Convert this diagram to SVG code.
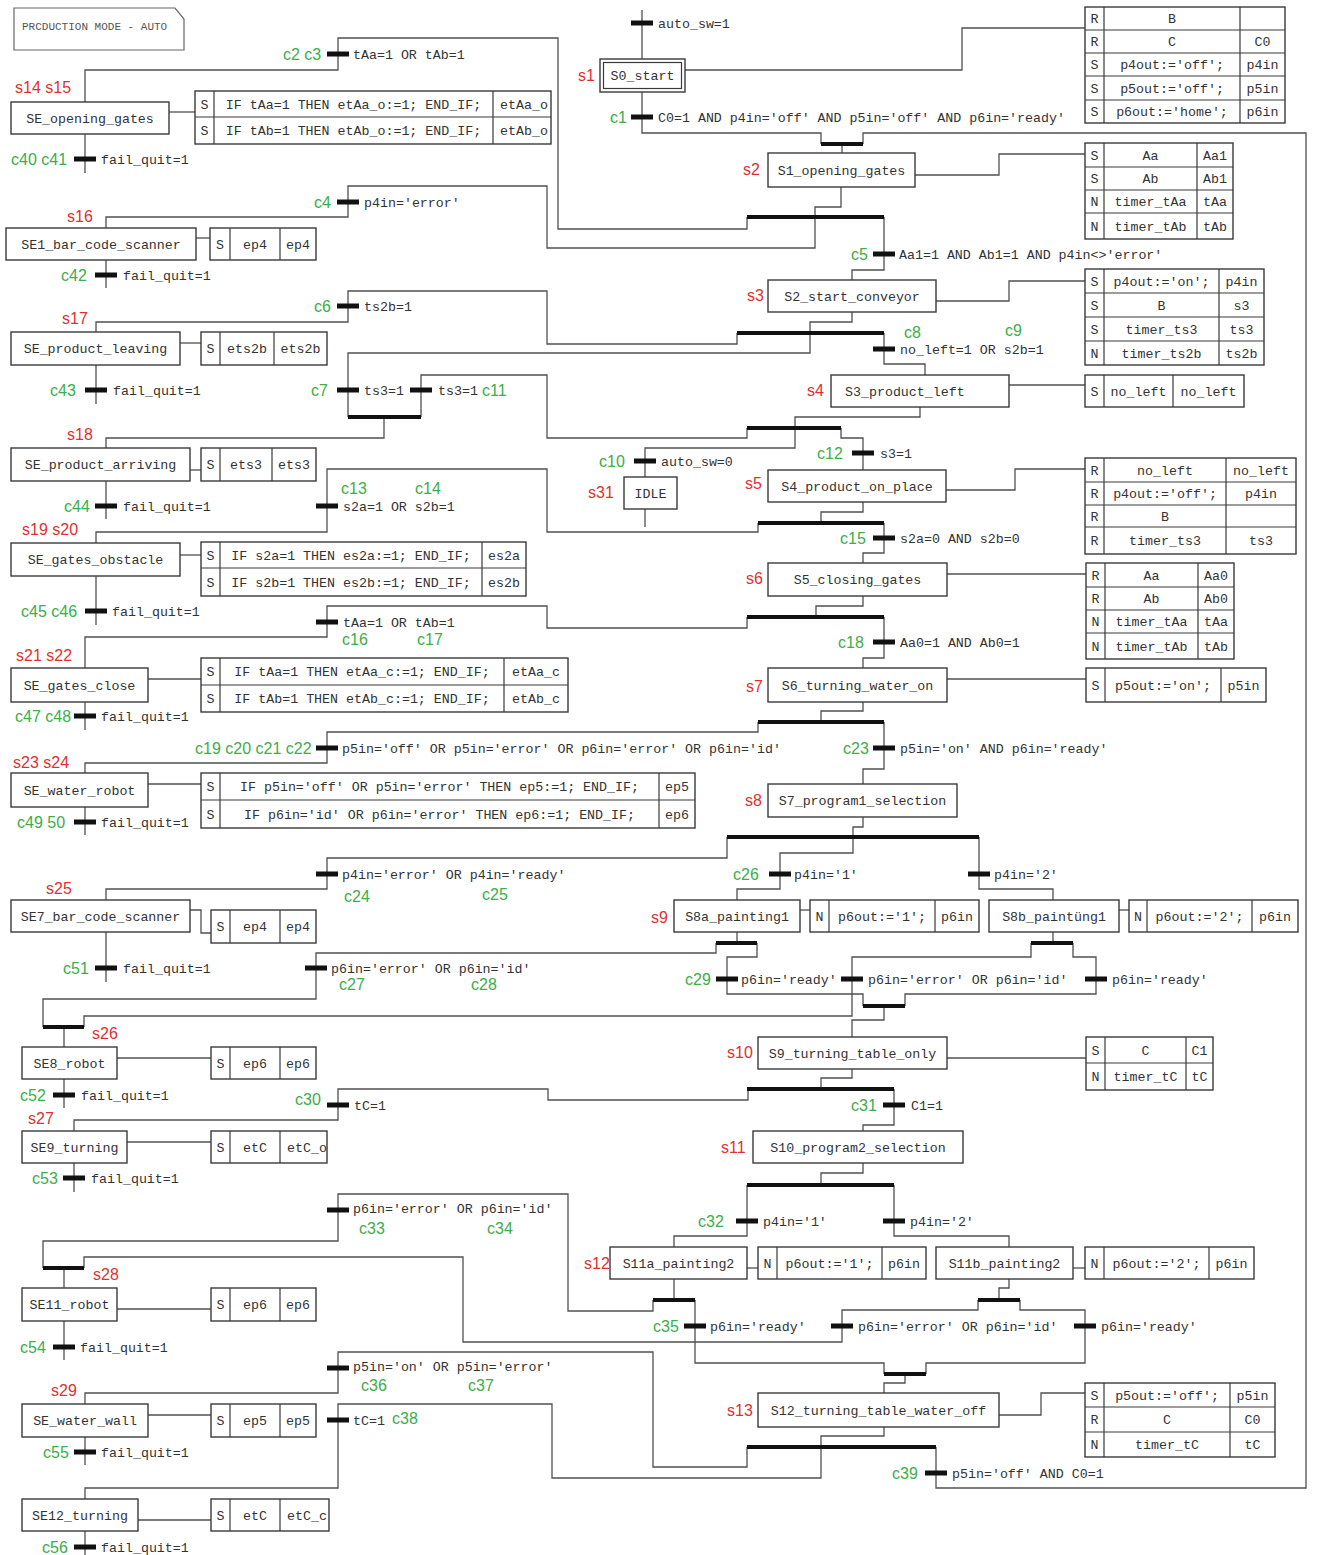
<svg xmlns="http://www.w3.org/2000/svg" width="1317" height="1555" viewBox="0 0 1317 1555">
<style>
.ln{fill:none;stroke:#505050;stroke-width:1.3}
.bx{fill:#fff;stroke:#3a3a3a;stroke-width:1.4}
.tb{fill:#111}
.sy{stroke:#111;stroke-width:4}
.t{font-family:"Liberation Mono",monospace;font-size:13.3px;fill:#333}
.m{text-anchor:middle}
.s{font-family:"Liberation Sans",sans-serif;font-size:16px;fill:#e0302f}
.c{font-family:"Liberation Sans",sans-serif;font-size:16px;fill:#3cae4a}
.g{fill:none;stroke:#3a3a3a;stroke-width:1.2}
</style>
<rect width="1317" height="1555" fill="#fff"/>

<g id="note">
<polygon points="14,8 175,8 184,19 184,50 14,50" fill="#fff" stroke="#666" stroke-width="1.2"/>
<text x="22" y="30" style="font-family:'Liberation Mono',monospace;font-size:11px;fill:#555">PRCDUCTION MODE - AUTO</text>
</g>

<g id="connectors">
<polyline class="ln" points="642,10 642,59"/>
<polyline class="ln" points="642,92 642,133 821,133 821,144"/>
<polyline class="ln" points="863,144 863,133 1306,133 1306,1488 936,1488 936,1447"/>
<polyline class="ln" points="842,144 842,153"/>
<polyline class="ln" points="685,70 962,70 962,28 1085,28"/>
<polyline class="ln" points="915,175 999,175 999,154 1085,154"/>
<polyline class="ln" points="841,187 841,207 815,207 815,248 547,248 547,186 348,186 348,217 106,217 106,228"/>
<polyline class="ln" points="747,217 747,229 558,229 558,38 338,38 338,70 85,70 85,102"/>
<polyline class="ln" points="85,134 85,173"/>
<polyline class="ln" points="169,112 195,112"/>
<polyline class="ln" points="196,238 210,238"/>
<polyline class="ln" points="106,260 106,288"/>
<polyline class="ln" points="884,217 884,270 852,270 852,280"/>
<polyline class="ln" points="936,301 1009,301 1009,281 1085,281"/>
<polyline class="ln" points="852,312 852,322 810,322 810,353 348,353 348,417"/>
<polyline class="ln" points="737,333 737,344 547,344 547,291 348,291 348,322 96,322 96,332"/>
<polyline class="ln" points="884,333 884,364 925,364 925,375"/>
<polyline class="ln" points="1009,385 1085,385"/>
<polyline class="ln" points="421,417 421,375 547,375 547,438 747,438 747,428"/>
<polyline class="ln" points="384,417 384,438 106,438 106,448"/>
<polyline class="ln" points="180,343 201,343"/>
<polyline class="ln" points="96,365 96,404"/>
<polyline class="ln" points="190,470 201,470"/>
<polyline class="ln" points="106,481 106,519"/>
<polyline class="ln" points="920,407 920,417 795,417 795,448 645,448 645,477"/>
<polyline class="ln" points="645,509 645,527"/>
<polyline class="ln" points="841,428 841,438 863,438 863,470"/>
<polyline class="ln" points="946,490 1015,490 1015,469 1085,469"/>
<polyline class="ln" points="863,502 863,512 821,512 821,523"/>
<polyline class="ln" points="758,523 758,532 547,532 547,469 327,469 327,532 96,532 96,543"/>
<polyline class="ln" points="884,523 884,553 863,553 863,563"/>
<polyline class="ln" points="180,555 201,555"/>
<polyline class="ln" points="96,576 96,625"/>
<polyline class="ln" points="947,574 1086,574"/>
<polyline class="ln" points="863,596 863,606 816,606 816,617"/>
<polyline class="ln" points="747,617 747,628 547,628 547,606 327,606 327,637 85,637 85,668"/>
<polyline class="ln" points="884,617 884,658 863,658 863,668"/>
<polyline class="ln" points="148,679 201,679"/>
<polyline class="ln" points="85,702 85,730"/>
<polyline class="ln" points="947,679 1086,679"/>
<polyline class="ln" points="863,702 863,711 821,711 821,722"/>
<polyline class="ln" points="758,722 758,732 327,732 327,763 85,763 85,773"/>
<polyline class="ln" points="884,722 884,769 863,769 863,784"/>
<polyline class="ln" points="148,784 201,784"/>
<polyline class="ln" points="85,807 85,835"/>
<polyline class="ln" points="863,817 863,827 853,827 853,853 780,853 780,889 737,889 737,900"/>
<polyline class="ln" points="727,837 727,858 327,858 327,889 106,889 106,900"/>
<polyline class="ln" points="979,837 979,889 1053,889 1053,900"/>
<polyline class="ln" points="800,910 810,910"/>
<polyline class="ln" points="1119,910 1129,910"/>
<polyline class="ln" points="190,910 201,910 201,933 211,933"/>
<polyline class="ln" points="106,932 106,982"/>
<polyline class="ln" points="737,932 737,943"/>
<polyline class="ln" points="716,943 716,953 316,953 316,999 43,999 43,1027"/>
<polyline class="ln" points="757,943 757,957 727,957 727,994 863,994 863,1006"/>
<polyline class="ln" points="1053,932 1053,943"/>
<polyline class="ln" points="1031,943 1031,957 852,957 852,1016 84,1016 84,1027"/>
<polyline class="ln" points="1073,943 1073,957 1096,957 1096,994 905,994 905,1006"/>
<polyline class="ln" points="884,1006 884,1020 852,1020 852,1037"/>
<polyline class="ln" points="64,1027 64,1047"/>
<polyline class="ln" points="117,1058 211,1058"/>
<polyline class="ln" points="64,1079 64,1108"/>
<polyline class="ln" points="947,1058 1086,1058"/>
<polyline class="ln" points="852,1069 852,1078 821,1078 821,1089"/>
<polyline class="ln" points="748,1089 748,1100 548,1100 548,1089 338,1089 338,1120 74,1120 74,1131"/>
<polyline class="ln" points="894,1089 894,1125 863,1125 863,1131"/>
<polyline class="ln" points="127,1142 211,1142"/>
<polyline class="ln" points="74,1163 74,1192"/>
<polyline class="ln" points="863,1163 863,1173 821,1173 821,1185"/>
<polyline class="ln" points="747,1185 747,1236 674,1236 674,1247"/>
<polyline class="ln" points="894,1185 894,1236 1009,1236 1009,1247"/>
<polyline class="ln" points="747,1268 758,1268"/>
<polyline class="ln" points="1073,1268 1085,1268"/>
<polyline class="ln" points="674,1279 674,1300"/>
<polyline class="ln" points="653,1300 653,1311 568,1311 568,1194 338,1194 338,1241 43,1241 43,1268"/>
<polyline class="ln" points="695,1300 695,1363 884,1363 884,1374"/>
<polyline class="ln" points="1009,1279 1009,1288 999,1288 999,1300"/>
<polyline class="ln" points="978,1300 978,1310 842,1310 842,1342 463,1342 463,1257 84,1257 84,1268"/>
<polyline class="ln" points="1020,1300 1020,1310 1085,1310 1085,1363 926,1363 926,1374"/>
<polyline class="ln" points="905,1374 905,1383 884,1383 884,1393"/>
<polyline class="ln" points="64,1268 64,1288"/>
<polyline class="ln" points="117,1309 211,1309"/>
<polyline class="ln" points="64,1321 64,1360"/>
<polyline class="ln" points="999,1415 1041,1415 1041,1393 1085,1393"/>
<polyline class="ln" points="884,1427 884,1436 821,1436 821,1478 552,1478 552,1404 338,1404 338,1488 85,1488 85,1499"/>
<polyline class="ln" points="747,1447 747,1467 653,1467 653,1352 338,1352 338,1393 85,1393 85,1404"/>
<polyline class="ln" points="148,1415 211,1415"/>
<polyline class="ln" points="85,1437 85,1465"/>
<polyline class="ln" points="138,1520 211,1520"/>
<polyline class="ln" points="85,1531 85,1555"/>
<!-- synchronisation bars -->
<line class="sy" x1="821" y1="144" x2="863" y2="144"/>
<line class="sy" x1="747" y1="217" x2="884" y2="217"/>
<line class="sy" x1="737" y1="333" x2="884" y2="333"/>
<line class="sy" x1="348" y1="417" x2="421" y2="417"/>
<line class="sy" x1="747" y1="428" x2="841" y2="428"/>
<line class="sy" x1="758" y1="523" x2="884" y2="523"/>
<line class="sy" x1="747" y1="617" x2="884" y2="617"/>
<line class="sy" x1="758" y1="722" x2="884" y2="722"/>
<line class="sy" x1="727" y1="837" x2="979" y2="837"/>
<line class="sy" x1="716" y1="943" x2="757" y2="943"/>
<line class="sy" x1="1031" y1="943" x2="1073" y2="943"/>
<line class="sy" x1="863" y1="1006" x2="905" y2="1006"/>
<line class="sy" x1="43" y1="1027" x2="84" y2="1027"/>
<line class="sy" x1="747" y1="1089" x2="894" y2="1089"/>
<line class="sy" x1="747" y1="1185" x2="894" y2="1185"/>
<line class="sy" x1="43" y1="1268" x2="84" y2="1268"/>
<line class="sy" x1="653" y1="1300" x2="695" y2="1300"/>
<line class="sy" x1="978" y1="1300" x2="1020" y2="1300"/>
<line class="sy" x1="884" y1="1374" x2="926" y2="1374"/>
<line class="sy" x1="747" y1="1447" x2="936" y2="1447"/>
</g>

<g id="transitions">
<g id="t_auto1"><rect class="tb" x="631" y="20.5" width="22" height="5"/><text class="t" x="658" y="27.5">auto_sw=1</text></g>
<g id="t_c1"><rect class="tb" x="631" y="114.5" width="22" height="5"/><text class="t" x="658" y="121.5">C0=1 AND p4in='off' AND p5in='off' AND p6in='ready'</text><text class="c" x="610" y="123">c1</text></g>
<g id="t_c2c3"><rect class="tb" x="327" y="51.5" width="22" height="5"/><text class="t" x="353" y="58.5">tAa=1 OR tAb=1</text><text class="c" x="283" y="60">c2 c3</text></g>
<g id="t_c40"><rect class="tb" x="74" y="156.5" width="22" height="5"/><text class="t" x="101" y="163.5">fail_quit=1</text><text class="c" x="11" y="165">c40 c41</text></g>
<g id="t_c4"><rect class="tb" x="337" y="199.5" width="22" height="5"/><text class="t" x="364" y="206.5">p4in='error'</text><text class="c" x="314" y="208">c4</text></g>
<g id="t_c5"><rect class="tb" x="873" y="251.5" width="22" height="5"/><text class="t" x="899" y="258.5">Aa1=1 AND Ab1=1 AND p4in&lt;&gt;'error'</text><text class="c" x="851" y="260">c5</text></g>
<g id="t_c42"><rect class="tb" x="95" y="272.5" width="22" height="5"/><text class="t" x="123" y="279.5">fail_quit=1</text><text class="c" x="61" y="281">c42</text></g>
<g id="t_c6"><rect class="tb" x="337" y="303.5" width="22" height="5"/><text class="t" x="364" y="310.5">ts2b=1</text><text class="c" x="314" y="312">c6</text></g>
<g id="t_c8"><rect class="tb" x="873" y="346.5" width="22" height="5"/><text class="t" x="900" y="353.5">no_left=1 OR s2b=1</text><text class="c" x="904" y="338">c8</text><text class="c" x="1005" y="336">c9</text></g>
<g id="t_c7"><rect class="tb" x="337" y="387.5" width="22" height="5"/><text class="t" x="364" y="394.5">ts3=1</text><text class="c" x="311" y="396">c7</text></g>
<g id="t_c11"><rect class="tb" x="410" y="387.5" width="22" height="5"/><text class="t" x="438" y="394.5">ts3=1</text><text class="c" x="482" y="396">c11</text></g>
<g id="t_c43"><rect class="tb" x="85" y="387.5" width="22" height="5"/><text class="t" x="113" y="394.5">fail_quit=1</text><text class="c" x="50" y="396">c43</text></g>
<g id="t_c10"><rect class="tb" x="634" y="458.5" width="22" height="5"/><text class="t" x="661" y="465.5">auto_sw=0</text><text class="c" x="599" y="467">c10</text></g>
<g id="t_c12"><rect class="tb" x="852" y="450.5" width="22" height="5"/><text class="t" x="880" y="457.5">s3=1</text><text class="c" x="817" y="459">c12</text></g>
<g id="t_c13"><rect class="tb" x="316" y="503.5" width="22" height="5"/><text class="t" x="343" y="510.5">s2a=1 OR s2b=1</text><text class="c" x="341" y="494">c13</text><text class="c" x="415" y="494">c14</text></g>
<g id="t_c44"><rect class="tb" x="95" y="503.5" width="22" height="5"/><text class="t" x="123" y="510.5">fail_quit=1</text><text class="c" x="64" y="512">c44</text></g>
<g id="t_c15"><rect class="tb" x="873" y="535.5" width="22" height="5"/><text class="t" x="900" y="542.5">s2a=0 AND s2b=0</text><text class="c" x="840" y="544">c15</text></g>
<g id="t_c45"><rect class="tb" x="85" y="608.5" width="22" height="5"/><text class="t" x="112" y="615.5">fail_quit=1</text><text class="c" x="21" y="617">c45 c46</text></g>
<g id="t_c16"><rect class="tb" x="316" y="619.5" width="22" height="5"/><text class="t" x="343" y="626.5">tAa=1 OR tAb=1</text><text class="c" x="342" y="645">c16</text><text class="c" x="417" y="645">c17</text></g>
<g id="t_c18"><rect class="tb" x="873" y="639.5" width="22" height="5"/><text class="t" x="900" y="646.5">Aa0=1 AND Ab0=1</text><text class="c" x="838" y="648">c18</text></g>
<g id="t_c47"><rect class="tb" x="74" y="713.5" width="22" height="5"/><text class="t" x="101" y="720.5">fail_quit=1</text><text class="c" x="15" y="722">c47 c48</text></g>
<g id="t_c19"><rect class="tb" x="316" y="745.5" width="22" height="5"/><text class="t" x="342" y="752.5">p5in='off' OR p5in='error' OR p6in='error' OR p6in='id'</text><text class="c" x="195" y="754">c19 c20 c21 c22</text></g>
<g id="t_c23"><rect class="tb" x="873" y="745.5" width="22" height="5"/><text class="t" x="900" y="752.5">p5in='on' AND p6in='ready'</text><text class="c" x="843" y="754">c23</text></g>
<g id="t_c49"><rect class="tb" x="74" y="819.5" width="22" height="5"/><text class="t" x="101" y="826.5">fail_quit=1</text><text class="c" x="17" y="828">c49 50</text></g>
<g id="t_c24"><rect class="tb" x="316" y="871.5" width="22" height="5"/><text class="t" x="342" y="878.5">p4in='error' OR p4in='ready'</text><text class="c" x="344" y="902">c24</text><text class="c" x="482" y="900">c25</text></g>
<g id="t_c26"><rect class="tb" x="769" y="871.5" width="22" height="5"/><text class="t" x="794" y="878.5">p4in='1'</text><text class="c" x="733" y="880">c26</text></g>
<g id="t_p4in2a"><rect class="tb" x="968" y="871.5" width="22" height="5"/><text class="t" x="994" y="878.5">p4in='2'</text></g>
<g id="t_c51"><rect class="tb" x="95" y="965.5" width="22" height="5"/><text class="t" x="123" y="972.5">fail_quit=1</text><text class="c" x="63" y="974">c51</text></g>
<g id="t_c27"><rect class="tb" x="305" y="965.5" width="22" height="5"/><text class="t" x="331" y="972.5">p6in='error' OR p6in='id'</text><text class="c" x="339" y="990">c27</text><text class="c" x="471" y="990">c28</text></g>
<g id="t_c29"><rect class="tb" x="716" y="976.5" width="22" height="5"/><text class="t" x="741" y="983.5">p6in='ready'</text><text class="c" x="685" y="985">c29</text></g>
<g id="t_err1"><rect class="tb" x="841" y="976.5" width="22" height="5"/><text class="t" x="868" y="983.5">p6in='error' OR p6in='id'</text></g>
<g id="t_ready1"><rect class="tb" x="1085" y="976.5" width="22" height="5"/><text class="t" x="1112" y="983.5">p6in='ready'</text></g>
<g id="t_c52"><rect class="tb" x="53" y="1092.5" width="22" height="5"/><text class="t" x="81" y="1099.5">fail_quit=1</text><text class="c" x="20" y="1101">c52</text></g>
<g id="t_c30"><rect class="tb" x="327" y="1102.5" width="22" height="5"/><text class="t" x="354" y="1109.5">tC=1</text><text class="c" x="295" y="1105">c30</text></g>
<g id="t_c31"><rect class="tb" x="883" y="1102.5" width="22" height="5"/><text class="t" x="911" y="1109.5">C1=1</text><text class="c" x="851" y="1111">c31</text></g>
<g id="t_c53"><rect class="tb" x="63" y="1175.5" width="22" height="5"/><text class="t" x="91" y="1182.5">fail_quit=1</text><text class="c" x="32" y="1184">c53</text></g>
<g id="t_c33"><rect class="tb" x="327" y="1207.5" width="22" height="5"/><text class="t" x="353" y="1213">p6in='error' OR p6in='id'</text><text class="c" x="359" y="1234">c33</text><text class="c" x="487" y="1234">c34</text></g>
<g id="t_c32"><rect class="tb" x="736" y="1218.5" width="22" height="5"/><text class="t" x="763" y="1225.5">p4in='1'</text><text class="c" x="698" y="1227">c32</text></g>
<g id="t_p4in2b"><rect class="tb" x="883" y="1218.5" width="22" height="5"/><text class="t" x="910" y="1225.5">p4in='2'</text></g>
<g id="t_c35"><rect class="tb" x="684" y="1323.5" width="22" height="5"/><text class="t" x="710" y="1330.5">p6in='ready'</text><text class="c" x="653" y="1332">c35</text></g>
<g id="t_err2"><rect class="tb" x="831" y="1323.5" width="22" height="5"/><text class="t" x="858" y="1330.5">p6in='error' OR p6in='id'</text></g>
<g id="t_ready2"><rect class="tb" x="1074" y="1323.5" width="22" height="5"/><text class="t" x="1101" y="1330.5">p6in='ready'</text></g>
<g id="t_c54"><rect class="tb" x="53" y="1344.5" width="22" height="5"/><text class="t" x="80" y="1351.5">fail_quit=1</text><text class="c" x="20" y="1353">c54</text></g>
<g id="t_c36"><rect class="tb" x="327" y="1365.5" width="22" height="5"/><text class="t" x="353" y="1371">p5in='on' OR p5in='error'</text><text class="c" x="361" y="1391">c36</text><text class="c" x="468" y="1391">c37</text></g>
<g id="t_c38"><rect class="tb" x="327" y="1417.5" width="22" height="5"/><text class="t" x="353" y="1424.5">tC=1</text><text class="c" x="392" y="1424">c38</text></g>
<g id="t_c55"><rect class="tb" x="74" y="1449.5" width="22" height="5"/><text class="t" x="101" y="1456.5">fail_quit=1</text><text class="c" x="43" y="1458">c55</text></g>
<g id="t_c39"><rect class="tb" x="925" y="1470.5" width="22" height="5"/><text class="t" x="952" y="1477.5">p5in='off' AND C0=1</text><text class="c" x="892" y="1479">c39</text></g>
<g id="t_c56"><rect class="tb" x="74" y="1544.5" width="22" height="5"/><text class="t" x="101" y="1551.5">fail_quit=1</text><text class="c" x="42" y="1553">c56</text></g>
</g>

<!-- main sequence steps -->
<g id="s1">
<rect class="bx" x="600" y="59" width="85" height="33"/><rect class="g" x="603.5" y="62.5" width="78" height="26"/>
<text class="t m" x="642.5" y="80">S0_start</text><text class="s" x="578" y="81">s1</text>
<rect class="bx" x="1085" y="7" width="200" height="116"/>
<path class="g" d="M1085 30H1285M1085 53H1285M1085 76H1285M1085 100H1285M1104 7V123M1240 7V123"/>
<text class="t m" x="1094.5" y="23">R</text><text class="t m" x="1172" y="23">B</text>
<text class="t m" x="1094.5" y="46">R</text><text class="t m" x="1172" y="46">C</text><text class="t m" x="1262.5" y="46">C0</text>
<text class="t m" x="1094.5" y="69">S</text><text class="t m" x="1172" y="69">p4out:='off';</text><text class="t m" x="1262.5" y="69">p4in</text>
<text class="t m" x="1094.5" y="92.5">S</text><text class="t m" x="1172" y="92.5">p5out:='off';</text><text class="t m" x="1262.5" y="92.5">p5in</text>
<text class="t m" x="1094.5" y="116">S</text><text class="t m" x="1172" y="116">p6out:='home';</text><text class="t m" x="1262.5" y="116">p6in</text>
</g>
<g id="s2">
<rect class="bx" x="768" y="153" width="147" height="34"/>
<text class="t m" x="841.5" y="174.5">S1_opening_gates</text><text class="s" x="743" y="175">s2</text>
<rect class="bx" x="1085" y="143" width="148" height="96"/>
<path class="g" d="M1085 167H1233M1085 190H1233M1085 213H1233M1104 143V239M1197 143V239"/>
<text class="t m" x="1094.5" y="159.5">S</text><text class="t m" x="1150.5" y="159.5">Aa</text><text class="t m" x="1215" y="159.5">Aa1</text>
<text class="t m" x="1094.5" y="183">S</text><text class="t m" x="1150.5" y="183">Ab</text><text class="t m" x="1215" y="183">Ab1</text>
<text class="t m" x="1094.5" y="206">N</text><text class="t m" x="1150.5" y="206">timer_tAa</text><text class="t m" x="1215" y="206">tAa</text>
<text class="t m" x="1094.5" y="230.5">N</text><text class="t m" x="1150.5" y="230.5">timer_tAb</text><text class="t m" x="1215" y="230.5">tAb</text>
</g>
<g id="s3">
<rect class="bx" x="768" y="280" width="168" height="32"/>
<text class="t m" x="852" y="300.5">S2_start_conveyor</text><text class="s" x="747" y="301">s3</text>
<rect class="bx" x="1085" y="269" width="179" height="96"/>
<path class="g" d="M1085 293H1264M1085 317H1264M1085 341H1264M1104 269V365M1219 269V365"/>
<text class="t m" x="1094.5" y="285.5">S</text><text class="t m" x="1161.5" y="285.5">p4out:='on';</text><text class="t m" x="1241.5" y="285.5">p4in</text>
<text class="t m" x="1094.5" y="309.5">S</text><text class="t m" x="1161.5" y="309.5">B</text><text class="t m" x="1241.5" y="309.5">s3</text>
<text class="t m" x="1094.5" y="333.5">S</text><text class="t m" x="1161.5" y="333.5">timer_ts3</text><text class="t m" x="1241.5" y="333.5">ts3</text>
<text class="t m" x="1094.5" y="357.5">N</text><text class="t m" x="1161.5" y="357.5">timer_ts2b</text><text class="t m" x="1241.5" y="357.5">ts2b</text>
</g>
<g id="s4">
<rect class="bx" x="831" y="375" width="178" height="32"/>
<text class="t" x="845" y="395.5">S3_product_left</text><text class="s" x="807" y="396">s4</text>
<rect class="bx" x="1085" y="375" width="159" height="32"/>
<path class="g" d="M1104 375V407M1173 375V407"/>
<text class="t m" x="1094.5" y="395.5">S</text><text class="t m" x="1138.5" y="395.5">no_left</text><text class="t m" x="1208.5" y="395.5">no_left</text>
</g>
<g id="s31">
<rect class="bx" x="624" y="477" width="53" height="32"/>
<text class="t m" x="650.5" y="497.5">IDLE</text><text class="s" x="588" y="498">s31</text>
</g>
<g id="s5">
<rect class="bx" x="768" y="470" width="178" height="32"/>
<text class="t m" x="857" y="490.5">S4_product_on_place</text><text class="s" x="745" y="489">s5</text>
<rect class="bx" x="1085" y="458" width="211" height="96"/>
<path class="g" d="M1085 482H1296M1085 505H1296M1085 527H1296M1104 458V554M1226 458V554"/>
<text class="t m" x="1094.5" y="474.5">R</text><text class="t m" x="1165" y="474.5">no_left</text><text class="t m" x="1261" y="474.5">no_left</text>
<text class="t m" x="1094.5" y="498">R</text><text class="t m" x="1165" y="498">p4out:='off';</text><text class="t m" x="1261" y="498">p4in</text>
<text class="t m" x="1094.5" y="520.5">R</text><text class="t m" x="1165" y="520.5">B</text>
<text class="t m" x="1094.5" y="545">R</text><text class="t m" x="1165" y="545">timer_ts3</text><text class="t m" x="1261" y="545">ts3</text>
</g>
<g id="s6">
<rect class="bx" x="768" y="563" width="179" height="33"/>
<text class="t m" x="857.5" y="584">S5_closing_gates</text><text class="s" x="746" y="584">s6</text>
<rect class="bx" x="1086" y="563" width="148" height="96"/>
<path class="g" d="M1086 587H1234M1086 610H1234M1086 633H1234M1105 563V659M1198 563V659"/>
<text class="t m" x="1095.5" y="579.5">R</text><text class="t m" x="1151.5" y="579.5">Aa</text><text class="t m" x="1216" y="579.5">Aa0</text>
<text class="t m" x="1095.5" y="603">R</text><text class="t m" x="1151.5" y="603">Ab</text><text class="t m" x="1216" y="603">Ab0</text>
<text class="t m" x="1095.5" y="626">N</text><text class="t m" x="1151.5" y="626">timer_tAa</text><text class="t m" x="1216" y="626">tAa</text>
<text class="t m" x="1095.5" y="650.5">N</text><text class="t m" x="1151.5" y="650.5">timer_tAb</text><text class="t m" x="1216" y="650.5">tAb</text>
</g>
<g id="s7">
<rect class="bx" x="768" y="668" width="179" height="34"/>
<text class="t m" x="857.5" y="689.5">S6_turning_water_on</text><text class="s" x="746" y="692">s7</text>
<rect class="bx" x="1086" y="668" width="180" height="34"/>
<path class="g" d="M1105 668V702M1221 668V702"/>
<text class="t m" x="1095.5" y="689.5">S</text><text class="t m" x="1163" y="689.5">p5out:='on';</text><text class="t m" x="1243.5" y="689.5">p5in</text>
</g>
<g id="s8">
<rect class="bx" x="768" y="784" width="189" height="33"/>
<text class="t m" x="862.5" y="805">S7_program1_selection</text><text class="s" x="745" y="806">s8</text>
</g>
<g id="s9">
<rect class="bx" x="674" y="900" width="126" height="32"/>
<text class="t m" x="737" y="920.5">S8a_painting1</text><text class="s" x="651" y="923">s9</text>
<rect class="bx" x="810" y="900" width="169" height="32"/>
<path class="g" d="M829 900V932M935 900V932"/>
<text class="t m" x="819.5" y="920.5">N</text><text class="t m" x="882" y="920.5">p6out:='1';</text><text class="t m" x="957" y="920.5">p6in</text>
</g>
<g id="s9b">
<rect class="bx" x="989" y="900" width="130" height="32"/>
<text class="t m" x="1054" y="920.5">S8b_paintüng1</text>
<rect class="bx" x="1129" y="900" width="169" height="32"/>
<path class="g" d="M1147 900V932M1252 900V932"/>
<text class="t m" x="1138" y="920.5">N</text><text class="t m" x="1199.5" y="920.5">p6out:='2';</text><text class="t m" x="1275" y="920.5">p6in</text>
</g>
<g id="s10">
<rect class="bx" x="758" y="1037" width="189" height="32"/>
<text class="t m" x="852.5" y="1057.5">S9_turning_table_only</text><text class="s" x="727" y="1058">s10</text>
<rect class="bx" x="1086" y="1037" width="127" height="53"/>
<path class="g" d="M1086 1063H1213M1105 1037V1090M1186 1037V1090"/>
<text class="t m" x="1095.5" y="1054.5">S</text><text class="t m" x="1145.5" y="1054.5">C</text><text class="t m" x="1199.5" y="1054.5">C1</text>
<text class="t m" x="1095.5" y="1081">N</text><text class="t m" x="1145.5" y="1081">timer_tC</text><text class="t m" x="1199.5" y="1081">tC</text>
</g>
<g id="s11">
<rect class="bx" x="753" y="1131" width="210" height="32"/>
<text class="t m" x="858" y="1151.5">S10_program2_selection</text><text class="s" x="721" y="1153">s11</text>
</g>
<g id="s12">
<rect class="bx" x="610" y="1247" width="137" height="32"/>
<text class="t m" x="678.5" y="1267.5">S11a_painting2</text><text class="s" x="584" y="1269">s12</text>
<rect class="bx" x="758" y="1247" width="168" height="32"/>
<path class="g" d="M777 1247V1279M882 1247V1279"/>
<text class="t m" x="767.5" y="1267.5">N</text><text class="t m" x="829.5" y="1267.5">p6out:='1';</text><text class="t m" x="904" y="1267.5">p6in</text>
</g>
<g id="s12b">
<rect class="bx" x="936" y="1247" width="137" height="32"/>
<text class="t m" x="1004.5" y="1267.5">S11b_painting2</text>
<rect class="bx" x="1085" y="1247" width="169" height="32"/>
<path class="g" d="M1104 1247V1279M1209 1247V1279"/>
<text class="t m" x="1094.5" y="1267.5">N</text><text class="t m" x="1156.5" y="1267.5">p6out:='2';</text><text class="t m" x="1231.5" y="1267.5">p6in</text>
</g>
<g id="s13">
<rect class="bx" x="758" y="1393" width="241" height="34"/>
<text class="t m" x="878.5" y="1414.5">S12_turning_table_water_off</text><text class="s" x="727" y="1416">s13</text>
<rect class="bx" x="1085" y="1383" width="190" height="74"/>
<path class="g" d="M1085 1407H1275M1085 1432H1275M1104 1383V1457M1230 1383V1457"/>
<text class="t m" x="1094.5" y="1399.5">S</text><text class="t m" x="1167" y="1399.5">p5out:='off';</text><text class="t m" x="1252.5" y="1399.5">p5in</text>
<text class="t m" x="1094.5" y="1424">R</text><text class="t m" x="1167" y="1424">C</text><text class="t m" x="1252.5" y="1424">C0</text>
<text class="t m" x="1094.5" y="1449">N</text><text class="t m" x="1167" y="1449">timer_tC</text><text class="t m" x="1252.5" y="1449">tC</text>
</g>

<!-- emergency steps -->
<g id="s14">
<rect class="bx" x="11" y="102" width="158" height="32"/>
<text class="t m" x="90" y="122.5">SE_opening_gates</text><text class="s" x="15" y="93">s14 s15</text>
<rect class="bx" x="195" y="91" width="356" height="53"/>
<path class="g" d="M195 117H551M214 91V144M493 91V144"/>
<text class="t m" x="204.5" y="108.5">S</text><text class="t m" x="353.5" y="108.5">IF tAa=1 THEN etAa_o:=1; END_IF;</text><text class="t" x="500" y="108.5">etAa_o</text>
<text class="t m" x="204.5" y="135">S</text><text class="t m" x="353.5" y="135">IF tAb=1 THEN etAb_o:=1; END_IF;</text><text class="t" x="500" y="135">etAb_o</text>
</g>
<g id="s16">
<rect class="bx" x="6" y="228" width="190" height="32"/>
<text class="t m" x="101" y="248.5">SE1_bar_code_scanner</text><text class="s" x="67" y="222">s16</text>
<rect class="bx" x="210" y="228" width="106" height="32"/>
<path class="g" d="M230 228V260M280 228V260"/>
<text class="t m" x="220" y="248.5">S</text><text class="t m" x="255" y="248.5">ep4</text><text class="t m" x="298" y="248.5">ep4</text>
</g>
<g id="s17">
<rect class="bx" x="11" y="332" width="169" height="33"/>
<text class="t m" x="95.5" y="353">SE_product_leaving</text><text class="s" x="62" y="324">s17</text>
<rect class="bx" x="201" y="332" width="126" height="33"/>
<path class="g" d="M220 332V365M274 332V365"/>
<text class="t m" x="210.5" y="353">S</text><text class="t m" x="247" y="353">ets2b</text><text class="t m" x="300.5" y="353">ets2b</text>
</g>
<g id="s18">
<rect class="bx" x="11" y="448" width="179" height="33"/>
<text class="t m" x="100.5" y="469">SE_product_arriving</text><text class="s" x="67" y="440">s18</text>
<rect class="bx" x="201" y="448" width="115" height="33"/>
<path class="g" d="M220 448V481M272 448V481"/>
<text class="t m" x="210.5" y="469">S</text><text class="t m" x="246" y="469">ets3</text><text class="t m" x="294" y="469">ets3</text>
</g>
<g id="s19">
<rect class="bx" x="11" y="543" width="169" height="33"/>
<text class="t m" x="95.5" y="564">SE_gates_obstacle</text><text class="s" x="22" y="535">s19 s20</text>
<rect class="bx" x="201" y="542" width="325" height="54"/>
<path class="g" d="M201 568H526M220 542V596M482 542V596"/>
<text class="t m" x="210.5" y="559.5">S</text><text class="t m" x="351" y="559.5">IF s2a=1 THEN es2a:=1; END_IF;</text><text class="t m" x="504" y="559.5">es2a</text>
<text class="t m" x="210.5" y="586.5">S</text><text class="t m" x="351" y="586.5">IF s2b=1 THEN es2b:=1; END_IF;</text><text class="t m" x="504" y="586.5">es2b</text>
</g>
<g id="s21">
<rect class="bx" x="11" y="668" width="137" height="34"/>
<text class="t m" x="79.5" y="689.5">SE_gates_close</text><text class="s" x="16" y="661">s21 s22</text>
<rect class="bx" x="201" y="658" width="367" height="54"/>
<path class="g" d="M201 685H568M220 658V712M504 658V712"/>
<text class="t m" x="210.5" y="676">S</text><text class="t m" x="362" y="676">IF tAa=1 THEN etAa_c:=1; END_IF;</text><text class="t" x="512" y="676">etAa_c</text>
<text class="t m" x="210.5" y="703">S</text><text class="t m" x="362" y="703">IF tAb=1 THEN etAb_c:=1; END_IF;</text><text class="t" x="512" y="703">etAb_c</text>
</g>
<g id="s23">
<rect class="bx" x="11" y="773" width="137" height="34"/>
<text class="t m" x="79.5" y="794.5">SE_water_robot</text><text class="s" x="13" y="768">s23 s24</text>
<rect class="bx" x="201" y="773" width="494" height="55"/>
<path class="g" d="M201 800H695M220 773V828M659 773V828"/>
<text class="t m" x="210.5" y="791">S</text><text class="t m" x="439.5" y="791">IF p5in='off' OR p5in='error' THEN ep5:=1; END_IF;</text><text class="t m" x="677" y="791">ep5</text>
<text class="t m" x="210.5" y="818.5">S</text><text class="t m" x="439.5" y="818.5">IF p6in='id' OR p6in='error' THEN ep6:=1; END_IF;</text><text class="t m" x="677" y="818.5">ep6</text>
</g>
<g id="s25">
<rect class="bx" x="11" y="900" width="179" height="32"/>
<text class="t m" x="100.5" y="920.5">SE7_bar_code_scanner</text><text class="s" x="46" y="894">s25</text>
<rect class="bx" x="211" y="910" width="105" height="33"/>
<path class="g" d="M230 910V943M280 910V943"/>
<text class="t m" x="220.5" y="931">S</text><text class="t m" x="255" y="931">ep4</text><text class="t m" x="298" y="931">ep4</text>
</g>
<g id="s26">
<rect class="bx" x="22" y="1047" width="95" height="32"/>
<text class="t m" x="69.5" y="1067.5">SE8_robot</text><text class="s" x="92" y="1039">s26</text>
<rect class="bx" x="211" y="1047" width="105" height="32"/>
<path class="g" d="M230 1047V1079M280 1047V1079"/>
<text class="t m" x="220.5" y="1067.5">S</text><text class="t m" x="255" y="1067.5">ep6</text><text class="t m" x="298" y="1067.5">ep6</text>
</g>
<g id="s27">
<rect class="bx" x="22" y="1131" width="105" height="32"/>
<text class="t m" x="74.5" y="1151.5">SE9_turning</text><text class="s" x="28" y="1124">s27</text>
<rect class="bx" x="211" y="1131" width="116" height="32"/>
<path class="g" d="M230 1131V1163M280 1131V1163"/>
<text class="t m" x="220.5" y="1151.5">S</text><text class="t m" x="255" y="1151.5">etC</text><text class="t" x="287" y="1151.5">etC_o</text>
</g>
<g id="s28">
<rect class="bx" x="22" y="1288" width="95" height="33"/>
<text class="t m" x="69.5" y="1309">SE11_robot</text><text class="s" x="93" y="1280">s28</text>
<rect class="bx" x="211" y="1288" width="105" height="33"/>
<path class="g" d="M230 1288V1321M280 1288V1321"/>
<text class="t m" x="220.5" y="1309">S</text><text class="t m" x="255" y="1309">ep6</text><text class="t m" x="298" y="1309">ep6</text>
</g>
<g id="s29">
<rect class="bx" x="22" y="1404" width="126" height="33"/>
<text class="t m" x="85" y="1425">SE_water_wall</text><text class="s" x="51" y="1396">s29</text>
<rect class="bx" x="211" y="1404" width="105" height="33"/>
<path class="g" d="M230 1404V1437M280 1404V1437"/>
<text class="t m" x="220.5" y="1425">S</text><text class="t m" x="255" y="1425">ep5</text><text class="t m" x="298" y="1425">ep5</text>
</g>
<g id="s30">
<rect class="bx" x="22" y="1499" width="116" height="32"/>
<text class="t m" x="80" y="1519.5">SE12_turning</text>
<rect class="bx" x="211" y="1499" width="118" height="32"/>
<path class="g" d="M230 1499V1531M280 1499V1531"/>
<text class="t m" x="220.5" y="1519.5">S</text><text class="t m" x="255" y="1519.5">etC</text><text class="t" x="287" y="1519.5">etC_c</text>
</g>
</svg>
